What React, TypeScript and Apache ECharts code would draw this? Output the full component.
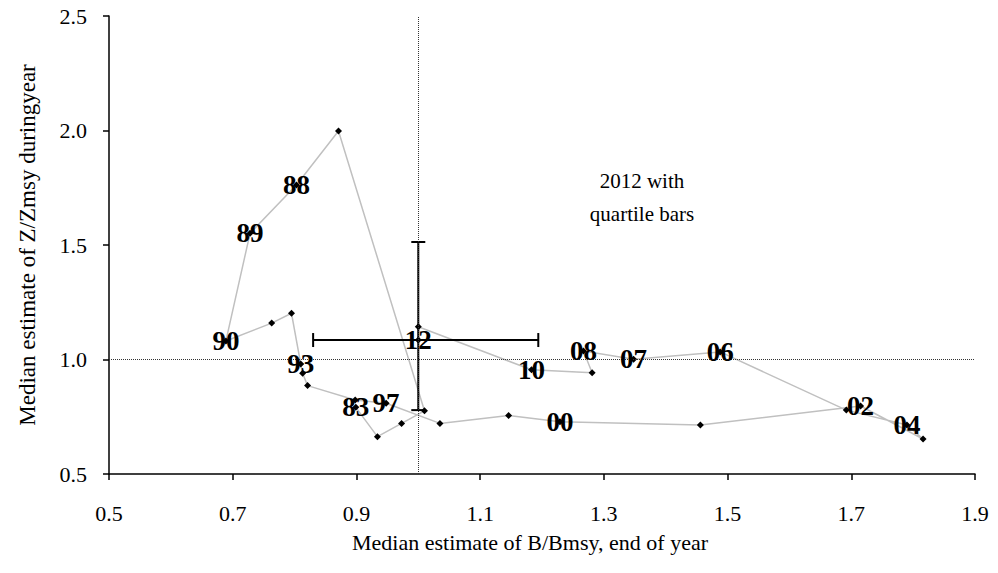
import React, { useEffect, useRef } from "react";
import * as echarts from "echarts";

const years = [
  "83", "84", "85", "86", "87", "88", "89", "90", "91", "92",
  "93", "94", "95", "96", "97", "98", "99", "00", "01", "02",
  "03", "04", "05", "06", "07", "08", "09", "10", "11", "12",
];
const bValues = [
  0.899, 0.934, 0.973, 1.01, 0.871, 0.803, 0.728, 0.689, 0.763, 0.795,
  0.81, 0.813, 0.821, 0.898, 0.948, 1.035, 1.146, 1.229, 1.456, 1.715,
  1.816, 1.79, 1.692, 1.488, 1.348, 1.267, 1.281, 1.183, 1.0, 1.0,
];
const zValues = [
  0.791, 0.663, 0.721, 0.776, 1.998, 1.762, 1.551, 1.081, 1.159, 1.202,
  0.98, 0.94, 0.886, 0.823, 0.809, 0.721, 0.755, 0.728, 0.714, 0.797,
  0.653, 0.714, 0.779, 1.033, 1.001, 1.037, 0.942, 0.955, 1.143, 1.085,
];
const labeledYears = ["83", "88", "89", "90", "93", "97", "00", "02", "04", "06", "07", "08", "10", "12"];

// 2012 quartile bars: [B, Z, B low, B high, Z low, Z high]
const quartileBars = [[1.0, 1.085, 0.83, 1.194, 0.779, 1.513]];

const xTicks = [0.5, 1.9, 0.2];
const yTicks = [0.5, 2.5, 0.5];

const serif = "'Liberation Serif', 'Times New Roman', serif";

export default function App() {
  const ref = useRef<HTMLDivElement>(null);
  useEffect(() => {
    if (!ref.current) return;
    const chart = echarts.init(ref.current, null, { renderer: "svg" });
    const points = years.map((y, i) => ({
      value: [bValues[i], zValues[i]],
      year: y,
    }));
    chart.setOption({
      animation: false,
      backgroundColor: "#ffffff",
      grid: { left: 109, right: 23, top: 16, bottom: 99 },
      xAxis: {
        type: "value",
        min: xTicks[0],
        max: xTicks[1],
        interval: xTicks[2],
        name: "Median estimate of B/Bmsy, end of year",
        nameLocation: "middle",
        nameGap: 57,
        nameTextStyle: { fontFamily: serif, fontSize: 22, color: "#000", padding: [0, 24, 0, 0] },
        axisLine: { lineStyle: { color: "#000", width: 1.5 } },
        axisTick: { length: 6, lineStyle: { color: "#000", width: 1.5 } },
        axisLabel: {
          margin: 28,
          fontFamily: serif,
          fontSize: 22,
          color: "#000",
          formatter: (v: number) => v.toFixed(1),
        },
        splitLine: { show: false },
      },
      yAxis: {
        type: "value",
        min: yTicks[0],
        max: yTicks[1],
        interval: yTicks[2],
        name: "Median estimate of Z/Zmsy duringyear",
        nameLocation: "middle",
        nameGap: 70,
        nameTextStyle: { fontFamily: serif, fontSize: 23, color: "#000" },
        axisLine: { lineStyle: { color: "#000", width: 1.5 } },
        axisTick: { length: 6, lineStyle: { color: "#000", width: 1.5 } },
        axisLabel: {
          margin: 22,
          fontFamily: serif,
          fontSize: 22,
          color: "#000",
          formatter: (v: number) => v.toFixed(1),
        },
        splitLine: { show: false },
      },
      series: [
        {
          type: "line",
          z: 2,
          data: points,
          symbol: "diamond",
          symbolSize: 7,
          itemStyle: { color: "#000" },
          lineStyle: { color: "#c0c0c0", width: 1.5 },
          label: { show: false },
          markLine: {
            silent: true,
            symbol: "none",
            label: { show: false },
            lineStyle: { color: "#333", type: "dotted", width: 1 },
            data: [{ xAxis: 1.0 }, { yAxis: 1.0 }],
          },
        },
        {
          type: "custom",
          z: 3,
          data: quartileBars,
          renderItem: (params: any, api: any) => {
            const c = api.coord([api.value(0), api.value(1)]);
            const l = api.coord([api.value(2), api.value(1)]);
            const r = api.coord([api.value(3), api.value(1)]);
            const b = api.coord([api.value(0), api.value(4)]);
            const t = api.coord([api.value(0), api.value(5)]);
            const cap = 7;
            const st = { stroke: "#000", lineWidth: 2 };
            return {
              type: "group",
              children: [
                { type: "line", shape: { x1: l[0], y1: c[1], x2: r[0], y2: c[1] }, style: st },
                { type: "line", shape: { x1: l[0], y1: c[1] - cap, x2: l[0], y2: c[1] + cap }, style: st },
                { type: "line", shape: { x1: r[0], y1: c[1] - cap, x2: r[0], y2: c[1] + cap }, style: st },
                { type: "line", shape: { x1: c[0], y1: t[1], x2: c[0], y2: b[1] }, style: st },
                { type: "line", shape: { x1: c[0] - cap, y1: t[1], x2: c[0] + cap, y2: t[1] }, style: st },
                { type: "line", shape: { x1: c[0] - cap, y1: b[1], x2: c[0] + cap, y2: b[1] }, style: st },
              ],
            };
          },
        },
        {
          type: "scatter",
          z: 5,
          data: points.filter((p) => labeledYears.includes(p.year)),
          symbolSize: 0,
          itemStyle: { color: "#000" },
          label: {
            show: true,
            position: "inside",
            formatter: (p: any) => p.data.year,
            fontFamily: serif,
            fontWeight: "bold",
            fontSize: 27,
            color: "#000",
            opacity: 1,
            textBorderWidth: 0,
            textBorderColor: "transparent",
          },
        },
      ],
      graphic: [
        {
          type: "text",
          x: 642,
          y: 181,
          style: {
            text: "2012 with",
            textAlign: "center",
            textVerticalAlign: "middle",
            fontFamily: serif,
            fontSize: 21,
            fill: "#000",
          },
        },
        {
          type: "text",
          x: 642,
          y: 214,
          style: {
            text: "quartile bars",
            textAlign: "center",
            textVerticalAlign: "middle",
            fontFamily: serif,
            fontSize: 21,
            fill: "#000",
          },
        },
      ],
    });
    return () => chart.dispose();
  }, []);
  return (
    <div
      ref={ref}
      style={{ position: "absolute", left: 0, top: 0, width: 998, height: 573 }}
    />
  );
}
